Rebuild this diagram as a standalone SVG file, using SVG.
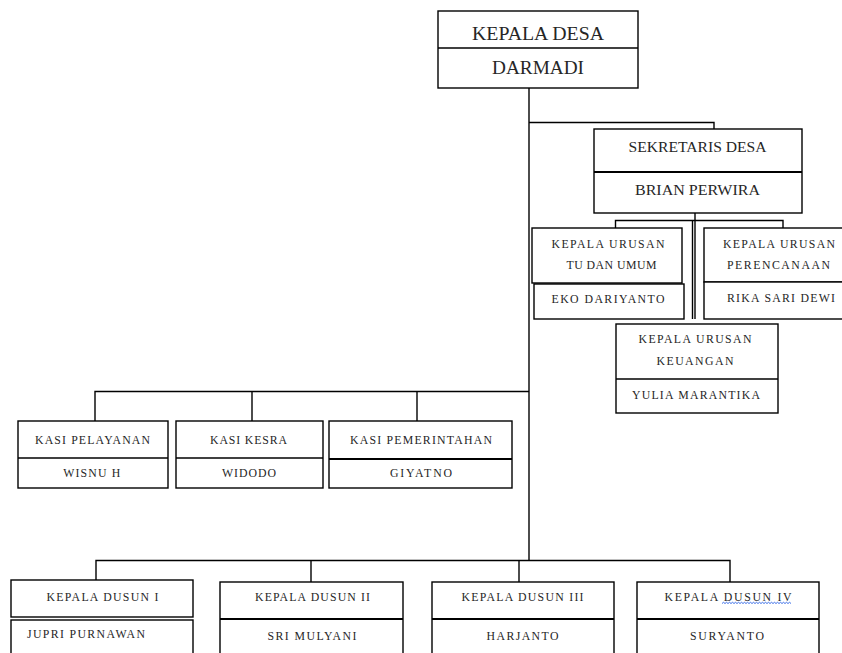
<svg xmlns="http://www.w3.org/2000/svg" width="842" height="653" viewBox="0 0 842 653">
<style>
.bx{fill:#fff;stroke:#000;stroke-width:1.4}
.bt{fill:none;stroke:#000;stroke-width:2.2}
.cn{fill:none;stroke:#000;stroke-width:1.4}
text{font-family:"Liberation Serif","Times New Roman",serif;fill:#262626;text-anchor:middle}
.s{font-size:11.8px}
.m{font-size:15px}
.l{font-size:19px}
</style>
<rect width="842" height="653" fill="#fff"/>
<g id="connectors">
<path class="cn" d="M529 88V560.5"/>
<path class="cn" d="M529 122.5H714V129"/>
<path class="cn" d="M695 213V319"/>
<path class="cn" d="M692.5 221V319"/>
<path class="cn" d="M615.5 228V220.5H783V228"/>
<path class="cn" d="M95 421V391.5H529"/>
<path class="cn" d="M252 391.5V421"/>
<path class="cn" d="M417 391.5V421"/>
<path class="cn" d="M96 580V560.5H730V582"/>
<path class="cn" d="M311 560.5V582"/>
<path class="cn" d="M519 560.5V582"/>
</g>
<g id="kepala-desa">
<rect class="bx" x="438" y="11" width="200" height="77"/>
<line class="cn" x1="438" y1="48" x2="638" y2="48"/>
<text class="l" x="538" y="39.5" textLength="132" lengthAdjust="spacingAndGlyphs">KEPALA DESA</text>
<text class="l" x="538" y="73.5" textLength="92" lengthAdjust="spacingAndGlyphs">DARMADI</text>
</g>
<g id="sekretaris-desa">
<rect class="bx" x="594" y="129" width="208" height="84"/>
<line class="bt" x1="594" y1="172" x2="802" y2="172"/>
<text class="m" x="697.5" y="152" textLength="138" lengthAdjust="spacingAndGlyphs">SEKRETARIS DESA</text>
<text class="m" x="697.5" y="195" textLength="125" lengthAdjust="spacingAndGlyphs">BRIAN PERWIRA</text>
</g>
<g id="kaur-tu">
<rect class="bx" x="532" y="228" width="150" height="55"/>
<rect class="bx" x="534" y="284" width="150" height="35"/>
<text class="s" x="608" y="248" textLength="113" lengthAdjust="spacing">KEPALA URUSAN</text>
<text class="s" x="611.5" y="269" textLength="90" lengthAdjust="spacing">TU DAN UMUM</text>
<text class="s" x="608" y="303" textLength="113" lengthAdjust="spacing">EKO DARIYANTO</text>
</g>
<g id="kaur-perencanaan">
<rect class="bx" x="704" y="228" width="142" height="54"/>
<rect class="bx" x="704" y="282" width="142" height="37"/>
<text class="s" x="779" y="248" textLength="112" lengthAdjust="spacing">KEPALA URUSAN</text>
<text class="s" x="778.5" y="269" textLength="103" lengthAdjust="spacing">PERENCANAAN</text>
<text class="s" x="781" y="301.5" textLength="108" lengthAdjust="spacing">RIKA SARI DEWI</text>
</g>
<g id="kaur-keuangan">
<rect class="bx" x="616" y="324" width="162" height="89"/>
<line class="cn" x1="616" y1="379" x2="778" y2="379"/>
<text class="s" x="695" y="343" textLength="113" lengthAdjust="spacing">KEPALA URUSAN</text>
<text class="s" x="695" y="365" textLength="77" lengthAdjust="spacing">KEUANGAN</text>
<text class="s" x="696" y="399" textLength="128" lengthAdjust="spacing">YULIA MARANTIKA</text>
</g>
<g id="kasi-pelayanan">
<rect class="bx" x="18" y="421" width="150" height="67"/>
<line class="cn" x1="18" y1="458" x2="168" y2="458"/>
<text class="s" x="92.5" y="444" textLength="115" lengthAdjust="spacing">KASI PELAYANAN</text>
<text class="s" x="91.7" y="477" textLength="57" lengthAdjust="spacing">WISNU H</text>
</g>
<g id="kasi-kesra">
<rect class="bx" x="176" y="421" width="147" height="67"/>
<line class="cn" x1="176" y1="458" x2="323" y2="458"/>
<text class="s" x="248.5" y="444" textLength="77" lengthAdjust="spacing">KASI KESRA</text>
<text class="s" x="249" y="477" textLength="54" lengthAdjust="spacing">WIDODO</text>
</g>
<g id="kasi-pemerintahan">
<rect class="bx" x="329" y="421" width="183" height="67"/>
<line class="bt" x1="329" y1="459" x2="512" y2="459"/>
<text class="s" x="421" y="444" textLength="142" lengthAdjust="spacing">KASI PEMERINTAHAN</text>
<text class="s" x="421" y="477" textLength="62" lengthAdjust="spacing">GIYATNO</text>
</g>
<g id="kepala-dusun-1">
<rect class="bx" x="11" y="580" width="182" height="37"/>
<rect class="bx" x="11" y="620" width="182" height="45"/>
<text class="s" x="102.5" y="601" textLength="112" lengthAdjust="spacing">KEPALA DUSUN I</text>
<text class="s" x="27" y="638" style="text-anchor:start" textLength="118" lengthAdjust="spacing">JUPRI PURNAWAN</text>
</g>
<g id="kepala-dusun-2">
<rect class="bx" x="220" y="582" width="183" height="83"/>
<line class="bt" x1="220" y1="619" x2="403" y2="619"/>
<text class="s" x="312.5" y="601" textLength="115" lengthAdjust="spacing">KEPALA DUSUN II</text>
<text class="s" x="312" y="640" textLength="89" lengthAdjust="spacing">SRI MULYANI</text>
</g>
<g id="kepala-dusun-3">
<rect class="bx" x="432" y="582" width="182" height="83"/>
<line class="bt" x1="432" y1="619" x2="614" y2="619"/>
<text class="s" x="522.5" y="601" textLength="122" lengthAdjust="spacing">KEPALA DUSUN III</text>
<text class="s" x="522.5" y="640" textLength="72" lengthAdjust="spacing">HARJANTO</text>
</g>
<g id="kepala-dusun-4">
<rect class="bx" x="637" y="582" width="182" height="83"/>
<line class="bt" x1="637" y1="619" x2="819" y2="619"/>
<text class="s" x="728" y="601" textLength="127" lengthAdjust="spacing">KEPALA DUSUN IV</text>
<path d="M722 603.5l1.5-1.2 1.5 1.2 1.5-1.2 1.5 1.2 1.5-1.2 1.5 1.2 1.5-1.2 1.5 1.2 1.5-1.2 1.5 1.2 1.5-1.2 1.5 1.2 1.5-1.2 1.5 1.2 1.5-1.2 1.5 1.2 1.5-1.2 1.5 1.2 1.5-1.2 1.5 1.2 1.5-1.2 1.5 1.2 1.5-1.2 1.5 1.2 1.5-1.2 1.5 1.2 1.5-1.2 1.5 1.2 1.5-1.2 1.5 1.2 1.5-1.2 1.5 1.2 1.5-1.2 1.5 1.2 1.5-1.2 1.5 1.2 1.5-1.2 1.5 1.2 1.5-1.2 1.5 1.2 1.5-1.2 1.5 1.2 1.5-1.2 1.5 1.2 1.5-1.2 1.5 1.2" fill="none" stroke="#3b6ee8" stroke-width="1"/>
<text class="s" x="727" y="640" textLength="74" lengthAdjust="spacing">SURYANTO</text>
</g>
</svg>
